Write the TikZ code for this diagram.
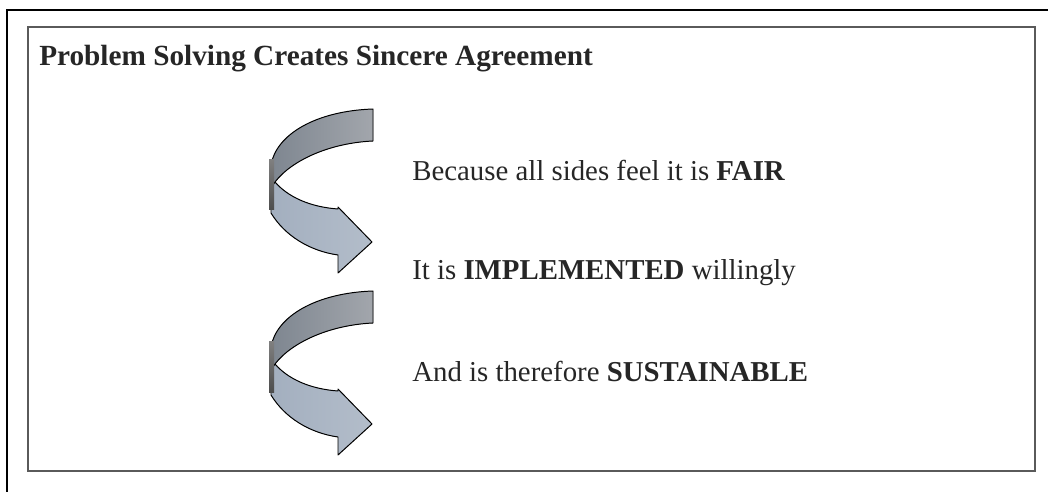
\documentclass[tikz,border=0pt]{standalone}
\usepackage{fontspec}
\setmainfont{Liberation Serif}
\definecolor{frameGray}{HTML}{5A5A5A}
\definecolor{bandTop}{HTML}{7E8690}
\definecolor{bandTopR}{HTML}{A2A6AC}
\definecolor{bandLow}{HTML}{A3AFBF}
\definecolor{bandLowR}{HTML}{B3BDCA}
\begin{document}
\begin{tikzpicture}[x=0.025cm,y=-0.025cm,
	band/.style={draw=black,line width=0.7pt,line join=round},
	line/.style={font=\fontsize{20.5}{24}\selectfont,text=black!85,anchor=base west,inner sep=0pt}]

	\useasboundingbox (0,0) rectangle (1048,492);

	% frames
	\draw[line width=2pt] (1048,10) -- (7,10) -- (7,492);
	\draw[frameGray,line width=1.4pt] (28,27) rectangle (1035,471);

	\node[anchor=base west,inner sep=0pt,text=black!85,font=\fontsize{20.8}{24}\selectfont\bfseries] (title) at (39,66) {Problem Solving Creates Sincere Agreement};

	% the two twisted arrows
	\def\gap{182};
	\foreach \dy in {0,\gap}{
	\begin{scope}[shift={(0,\dy)}]
		\filldraw[band,left color=bandLow,right color=bandLowR] (271,165) -- (271,213) .. controls (285,236) and (310,251) .. (338,255) -- (338,273) -- (372,242) -- (338,207) -- (338,209) .. controls (310,207) and (288,197) .. (275,182) -- cycle;
		\filldraw[band,left color=bandTop,right color=bandTopR] (373,109) -- (373,141) .. controls (330,143) and (292,160) .. (275,182) -- (271,188) -- (271,165) .. controls (276,135) and (315,111) .. (373,109) -- cycle;
		\fill[top color=gray,bottom color=gray!60!black] (269,160) rectangle (274,210);
	\end{scope}
	}

	\node[line] (fair) at (412,181) {Because all sides feel it is \textbf{FAIR}};
	\node[line] (impl) at (412,280) {It is \textbf{IMPLEMENTED} willingly};
	\node[line] (sust) at (412,381) {And is therefore \textbf{SUSTAINABLE}};

\end{tikzpicture}
\end{document}
